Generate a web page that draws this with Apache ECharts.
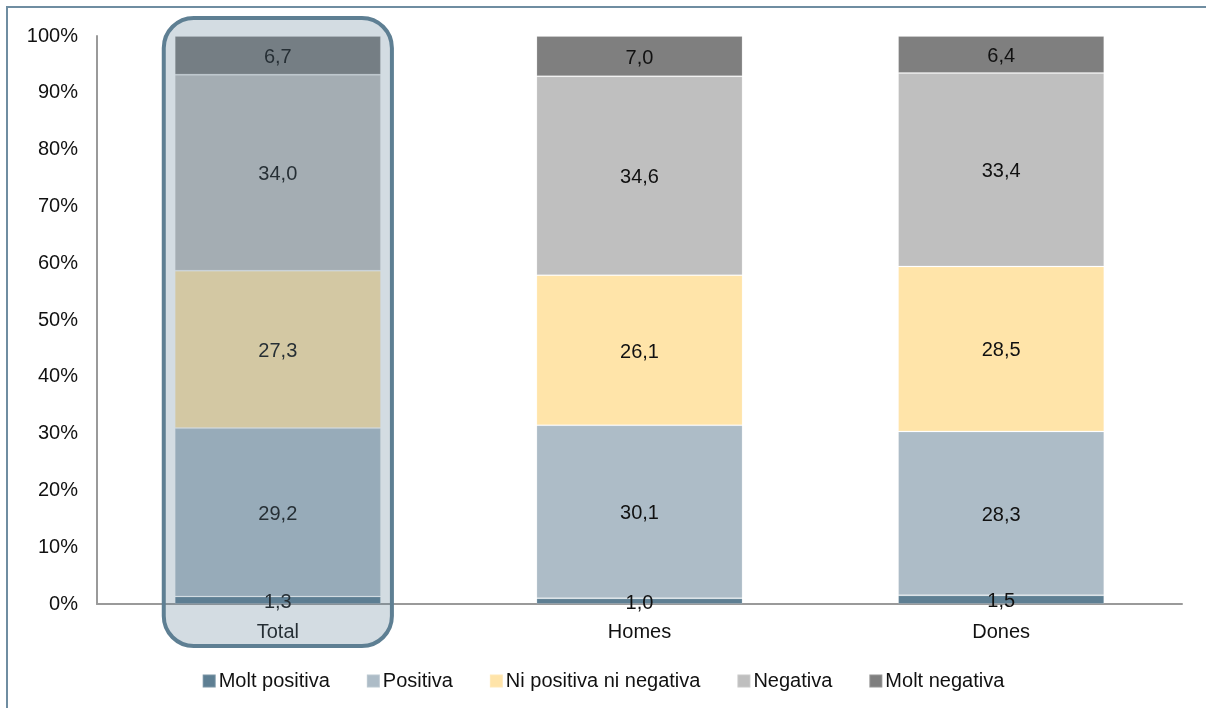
<!DOCTYPE html>
<html><head><meta charset="utf-8">
<script src="https://cdn.jsdelivr.net/npm/echarts@6/dist/echarts.min.js"></script>
<style>html,body{margin:0;padding:0;background:#fff}#c{width:1206px;height:708px}</style>
</head><body><div id="c"></div>
<script>
const categories = ['Total', 'Homes', 'Dones'];
const seriesNames = ['Molt positiva', 'Positiva', 'Ni positiva ni negativa', 'Negativa', 'Molt negativa'];
const moltPositiva = [1.3, 1.0, 1.5];
const positiva = [29.2, 30.1, 28.3];
const niPositivaNiNegativa = [27.3, 26.1, 28.5];
const negativa = [34.0, 34.6, 33.4];
const moltNegativa = [6.7, 7.0, 6.4];
const yTicks = [0, 10, 20, 30, 40, 50, 60, 70, 80, 90, 100];

const raw = [moltPositiva, positiva, niPositivaNiNegativa, negativa, moltNegativa];
const colors = ['#5E7F93', '#ADBCC7', '#FFE4A9', '#BFBFBF', '#7F7F7F'];
const sums = categories.map((_, i) => raw.reduce((s, a) => s + a[i], 0));

const chart = echarts.init(document.getElementById('c'), null, {renderer: 'canvas'});
const font = 'Liberation Sans, Arial, sans-serif';
const fs = 20;

const series = raw.map((arr, k) => ({
  name: seriesNames[k],
  type: 'bar',
  stack: 'all',
  barWidth: '57%',
  data: arr.map((v, i) => v / sums[i] * 100),
  itemStyle: {color: colors[k], borderColor: 'rgba(255,255,255,0.18)', borderWidth: 1},
  label: {
    show: true,
    position: 'inside',
    color: '#111',
    fontFamily: font,
    fontSize: fs,
    offset: [0, 2],
    formatter: p => raw[k][p.dataIndex].toFixed(1).replace('.', ',')
  },
  emphasis: {disabled: true}
}));

chart.setOption({
  animation: false,
  backgroundColor: '#fff',
  grid: {left: 97, right: 24, top: 36, bottom: 104, containLabel: false},
  xAxis: {
    type: 'category',
    data: categories,
    axisLine: {lineStyle: {color: '#9a9a9a', width: 2}},
    axisTick: {show: false},
    axisLabel: {color: '#111', fontFamily: font, fontSize: fs, margin: 18}
  },
  yAxis: {
    type: 'value',
    min: 0, max: 100, interval: 10,
    axisLine: {show: true, lineStyle: {color: '#9a9a9a', width: 2}},
    axisTick: {show: false},
    splitLine: {show: false},
    axisLabel: {color: '#111', fontFamily: font, fontSize: fs, margin: 19,
      formatter: v => yTicks.includes(v) ? v + '%' : ''}
  },
  legend: {
    top: 666,
    left: 'center',
    itemWidth: 13, itemHeight: 13, itemGap: 36,
    icon: 'rect',
    textStyle: {color: '#111', fontFamily: font, fontSize: fs, padding: [0, 0, 0, -2]},
    data: seriesNames
  },
  series: series
});

const cx = chart.convertToPixel({xAxisIndex: 0, yAxisIndex: 0}, ['Total', 100]);
const c0 = chart.convertToPixel({xAxisIndex: 0, yAxisIndex: 0}, ['Total', 0]);
const c1 = chart.convertToPixel({xAxisIndex: 0, yAxisIndex: 0}, ['Homes', 0]);
const band = c1[0] - c0[0];
const halfW = band * 0.57 / 2 + 11;
chart.setOption({
  graphic: [
    {type: 'rect', silent: true, z: 100,
     shape: {x: cx[0] - halfW, y: cx[1] - 18, width: halfW * 2, height: (c0[1] - cx[1]) + 60, r: 30},
     style: {fill: 'rgba(94,127,147,0.27)', stroke: '#5E7F93', lineWidth: 4}},
    {type: 'rect', silent: true, z: 100,
     shape: {x: 7, y: 7, width: 1300, height: 800},
     style: {fill: 'none', stroke: '#6F8DA1', lineWidth: 2}}
  ]
});
</script></body></html>
